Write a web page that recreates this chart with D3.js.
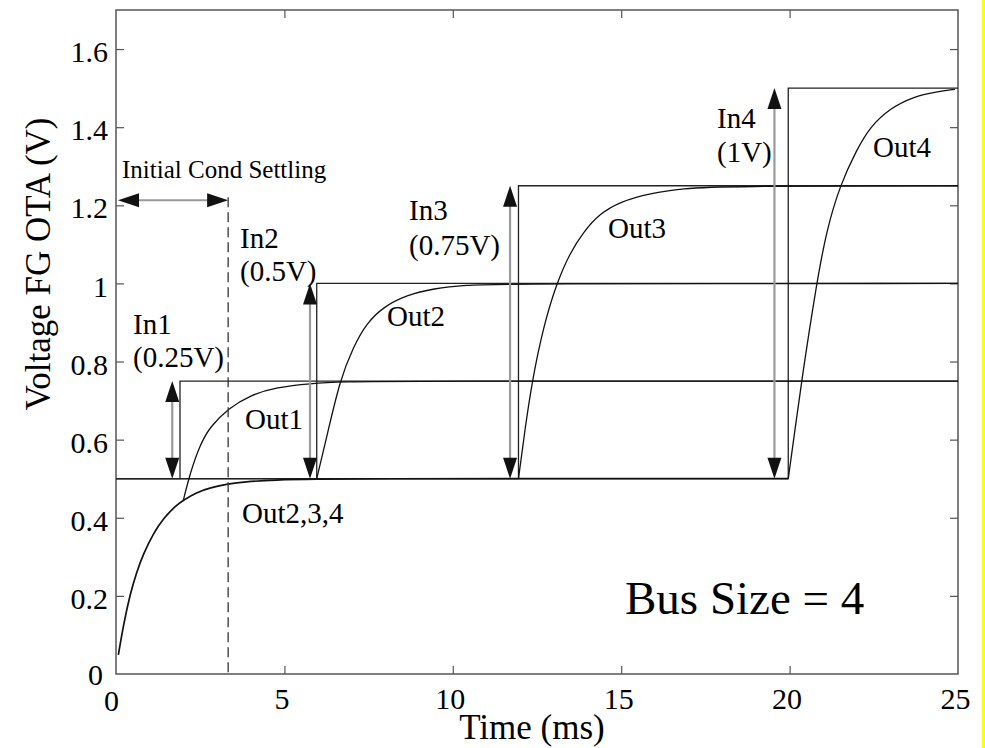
<!DOCTYPE html>
<html><head><meta charset="utf-8">
<script src="https://cdn.jsdelivr.net/npm/d3@7"></script>
<style>
body{margin:0;background:#fff;}
svg{display:block;}
text{font-family:"Liberation Serif","Times New Roman",serif;fill:#000;}
</style>
</head><body>
<svg id="chart" width="985" height="748"></svg>
<script>
// ---------- data ----------
const xTicks = [0, 5, 10, 15, 20, 25];
const xTickLabels = ["0", "5", "10", "15", "20", "25"];
const yTicks = [0, 0.2, 0.4, 0.6, 0.8, 1, 1.2, 1.4, 1.6];
const yTickLabels = ["0", "0.2", "0.4", "0.6", "0.8", "1", "1.2", "1.4", "1.6"];

const baseLevel = 0.5;
const inputNames = ["In1", "In2", "In3", "In4"];
const inputAmps = ["(0.25V)", "(0.5V)", "(0.75V)", "(1V)"];
const stepTimes = [1.9, 5.96, 11.95, 19.96];
const stepLevels = [0.75, 1.0, 1.25, 1.5];
const arrowTimes = [1.67, 5.76, 11.7, 19.55];

const settleTime = 3.33;
const settleArrowLevel = 1.213;

// common start-up settling (Out2,3,4 and Out1 before its step)
const outCommon = [
  [0.07, 0.049], [0.22, 0.125], [0.42, 0.205], [0.61, 0.26], [0.81, 0.307],
  [1.11, 0.360], [1.40, 0.398], [1.80, 0.433], [2.0, 0.445], [2.39, 0.465],
  [2.79, 0.477], [3.34, 0.487], [3.78, 0.492], [4.77, 0.497], [5.76, 0.499],
  [8.0, 0.5], [12.0, 0.5], [19.96, 0.5]
];
const out1 = [
  [2.0, 0.445], [2.2, 0.514], [2.49, 0.586], [2.79, 0.633], [3.34, 0.680],
  [3.98, 0.714], [4.77, 0.734], [5.76, 0.744], [6.75, 0.748], [8.5, 0.75], [25, 0.75]
];
const out2 = [
  [5.96, 0.5], [6.26, 0.608], [6.65, 0.753], [7.05, 0.838], [7.44, 0.898],
  [7.94, 0.940], [8.63, 0.970], [9.42, 0.987], [10.41, 0.996], [11.4, 0.999], [25, 1.0]
];
const out3 = [
  [11.95, 0.5], [12.14, 0.625], [12.36, 0.752], [12.69, 0.889], [13.08, 1.0],
  [13.48, 1.078], [13.88, 1.132], [14.37, 1.179], [14.96, 1.209], [15.86, 1.231],
  [16.84, 1.243], [18.0, 1.249], [25, 1.25]
];
const out4 = [
  [19.96, 0.5], [20.16, 0.625], [20.36, 0.753], [20.8, 1.0], [21.1, 1.137],
  [21.5, 1.252], [21.99, 1.342], [22.39, 1.401], [22.98, 1.448], [23.67, 1.478],
  [24.37, 1.491], [24.91, 1.497]
];

// ---------- layout ----------
const W = 985, H = 748;
const plot = {left: 116, right: 958, top: 10, bottom: 674};
const svg = d3.select("#chart");

const x = d3.scaleLinear().domain([0, 25]).range([plot.left, plot.right]);
const y = d3.scaleLinear().domain([0, 1.7]).range([plot.bottom, plot.top]);

const axisColor = "#555";

// yellow strip at right edge
svg.append("rect").attr("x", 982).attr("y", 0).attr("width", 3).attr("height", H).attr("fill", "#ffff00");

// axes with inward ticks
const tickLen = 8;
const gB = svg.append("g").attr("transform", `translate(0,${plot.bottom})`)
  .call(d3.axisBottom(x).tickValues(xTicks).tickSize(-tickLen).tickPadding(14)
    .tickFormat((d, i) => xTickLabels[i]));
const gT = svg.append("g").attr("transform", `translate(0,${plot.top})`)
  .call(d3.axisTop(x).tickValues(xTicks).tickSize(-tickLen).tickFormat(""));
const gL = svg.append("g").attr("transform", `translate(${plot.left},0)`)
  .call(d3.axisLeft(y).tickValues(yTicks).tickSize(-tickLen).tickPadding(8)
    .tickFormat((d, i) => yTickLabels[i]));
const gR = svg.append("g").attr("transform", `translate(${plot.right},0)`)
  .call(d3.axisRight(y).tickValues(yTicks).tickSize(-tickLen).tickFormat(""));
[gB, gT, gL, gR].forEach(g => {
  g.select(".domain").remove();
  g.selectAll(".tick line").attr("stroke", axisColor).attr("stroke-width", 1.2);
  g.selectAll(".tick text").style("font-family", '"Liberation Serif","Times New Roman",serif')
    .style("font-size", "30px").attr("fill", "#000");
});
// hide tick lines at frame corners
gB.selectAll(".tick").filter(d => d === 0 || d === 25).select("line").remove();
gT.selectAll(".tick").filter(d => d === 0 || d === 25).select("line").remove();
gL.selectAll(".tick").filter(d => d === 0).select("line").remove();
gR.selectAll(".tick").filter(d => d === 0).select("line").remove();
gB.selectAll(".tick text").attr("dx", "-3").attr("dy", "0.7em");
gL.selectAll(".tick text").attr("dy", "0.42em");
gB.selectAll(".tick").filter(d => d === 0).select("text").attr("dx", "-5").attr("dy", "0.78em");
gL.selectAll(".tick").filter(d => d === 0).select("text").attr("dx", "-5").attr("dy", "0.36em");

// frame
svg.append("rect").attr("x", plot.left).attr("y", plot.top)
  .attr("width", plot.right - plot.left).attr("height", plot.bottom - plot.top)
  .attr("fill", "none").attr("stroke", axisColor).attr("stroke-width", 1.5);

const lineStraight = d3.line().x(d => x(d[0])).y(d => y(d[1]));
const lineSmooth = d3.line().x(d => x(d[0])).y(d => y(d[1])).curve(d3.curveBasis);

// input step signals
stepTimes.forEach((t, i) => {
  const pts = [[0, baseLevel], [t, baseLevel], [t, stepLevels[i]], [25, stepLevels[i]]];
  svg.append("path").attr("d", lineStraight(pts)).attr("fill", "none")
    .attr("stroke", "#222").attr("stroke-width", 1.3);
});

// outputs
[outCommon, out1, out2, out3, out4].forEach((s, i) => {
  svg.append("path").attr("d", lineSmooth(s)).attr("fill", "none")
    .attr("stroke", "#111").attr("stroke-width", i === 0 ? 1.7 : 1.3);
});

// double-headed vertical arrows
const headLen = 21, headHalf = 7;
function vHead(px, py, dir) {
  return `M${px},${py} L${px - headHalf},${py - dir * headLen} L${px + headHalf},${py - dir * headLen} Z`;
}
function hHead(px, py, dir) {
  return `M${px},${py} L${px - dir * headLen},${py - headHalf} L${px - dir * headLen},${py + headHalf} Z`;
}
arrowTimes.forEach((t, i) => {
  const px = x(t), yTop = y(stepLevels[i]), yBot = y(baseLevel);
  svg.append("line").attr("x1", px).attr("x2", px).attr("y1", yTop + 4).attr("y2", yBot - 4)
    .attr("stroke", "#9a9a9a").attr("stroke-width", 2.2);
  svg.append("path").attr("d", vHead(px, yTop, -1)).attr("fill", "#111");
  svg.append("path").attr("d", vHead(px, yBot, 1)).attr("fill", "#111");
});

// initial condition settling arrow + dashed line
{
  const yA = y(settleArrowLevel), x0 = x(0) + 2, x1 = x(settleTime);
  svg.append("line").attr("x1", x0 + 4).attr("x2", x1 - 4).attr("y1", yA).attr("y2", yA)
    .attr("stroke", "#9a9a9a").attr("stroke-width", 2);
  svg.append("path").attr("d", hHead(x0, yA, -1)).attr("fill", "#111");
  svg.append("path").attr("d", hHead(x1, yA, 1)).attr("fill", "#111");
  svg.append("line").attr("x1", x1).attr("x2", x1).attr("y1", yA - 3).attr("y2", y(0))
    .attr("stroke", "#333").attr("stroke-width", 1.3).attr("stroke-dasharray", "10,5");
}

// annotations (pixel anchors)
const annotations = [
  {t: "Initial Cond Settling", x: 122, y: 178, s: 25},
  {t: inputNames[0], x: 133, y: 334, s: 29},
  {t: inputAmps[0], x: 133, y: 367, s: 29},
  {t: inputNames[1], x: 240, y: 248, s: 29},
  {t: inputAmps[1], x: 240, y: 281, s: 29},
  {t: inputNames[2], x: 409, y: 220, s: 29},
  {t: inputAmps[2], x: 409, y: 255, s: 29},
  {t: inputNames[3], x: 717, y: 128, s: 29},
  {t: inputAmps[3], x: 717, y: 162, s: 29},
  {t: "Out1", x: 245, y: 429, s: 29},
  {t: "Out2,3,4", x: 242, y: 523, s: 29},
  {t: "Out2", x: 387, y: 326, s: 29},
  {t: "Out3", x: 608, y: 238, s: 29},
  {t: "Out4", x: 873, y: 157, s: 29},
  {t: "Bus Size = 4", x: 625, y: 614, s: 47}
];
annotations.forEach(a => {
  svg.append("text").attr("x", a.x).attr("y", a.y).style("font-size", a.s + "px").text(a.t);
});

// axis titles
svg.append("text").attr("x", 532).attr("y", 739).attr("text-anchor", "middle")
  .style("font-size", "35px").text("Time (ms)");
svg.append("text").attr("transform", "translate(50,264) rotate(-90)").attr("text-anchor", "middle")
  .style("font-size", "35px").text("Voltage FG OTA (V)");
</script>
</body></html>
